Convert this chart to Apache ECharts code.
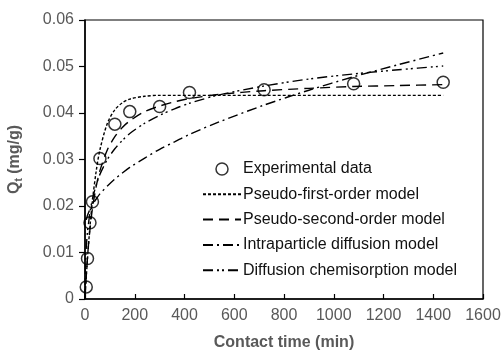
<!DOCTYPE html>
<html><head><meta charset="utf-8">
<script src="https://cdn.jsdelivr.net/npm/echarts@6/dist/echarts.min.js"></script>
<style>html,body{margin:0;padding:0;background:#fff}#c{width:502px;height:351px}</style>
</head><body><div id="c"></div>
<script>
// Experimental data
const expT = [5, 10, 20, 30, 60, 120, 180, 300, 420, 720, 1080, 1440];
const expQ = [0.0026, 0.0087, 0.0164, 0.0209, 0.0302, 0.0376, 0.0403, 0.0414, 0.0444, 0.0450, 0.0463, 0.0466];
// Model curves
const modelT = [0, 2, 5, 10, 15, 20, 30, 45, 60, 90, 120, 150, 180, 240, 300, 360, 420, 540, 720, 900, 1080, 1260, 1440];
const pfoQ = [0, 0.0019, 0.0046, 0.0087, 0.0123, 0.0156, 0.0212, 0.0275, 0.0321, 0.0378, 0.0407, 0.0422, 0.0430, 0.0436, 0.0438, 0.0438, 0.0438, 0.0438, 0.0438, 0.0438, 0.0438, 0.0438, 0.0438];
const psoQ = [0, 0.0021, 0.0049, 0.0089, 0.0123, 0.0150, 0.0195, 0.0242, 0.0276, 0.0321, 0.0349, 0.0369, 0.0383, 0.0403, 0.0415, 0.0424, 0.0431, 0.0440, 0.0448, 0.0453, 0.0457, 0.0459, 0.0461];
const ipdT = [5, 10, 20, 30, 45, 60, 90, 120, 150, 180, 240, 300, 360, 420, 540, 720, 900, 1080, 1260, 1440];
const ipdQ = [0.0170, 0.0180, 0.0193, 0.0203, 0.0215, 0.0226, 0.0243, 0.0258, 0.0271, 0.0283, 0.0303, 0.0322, 0.0338, 0.0354, 0.0381, 0.0417, 0.0449, 0.0478, 0.0504, 0.0529];
const dcQ = [0, 0.0074, 0.0110, 0.0145, 0.0166, 0.0187, 0.0215, 0.0245, 0.0268, 0.0300, 0.0323, 0.0341, 0.0356, 0.0378, 0.0395, 0.0409, 0.0421, 0.0439, 0.0458, 0.0473, 0.0484, 0.0493, 0.0501];
const names = ['Experimental data', 'Pseudo-first-order model', 'Pseudo-second-order model', 'Intraparticle diffusion model', 'Diffusion chemisorption model'];

const zip = (a, b) => a.map((v, i) => [v, b[i]]);
const chart = echarts.init(document.getElementById('c'), null, {renderer: 'canvas'});
const lineBase = (name, data, dash) => ({
  name, type: 'line', data, smooth: 0.3, showSymbol: false, symbol: 'none',
  lineStyle: {color: '#000', width: 1.4, type: dash},
  itemStyle: {color: '#000'}, z: 2
});
const FONT = 'Liberation Sans';
chart.setOption({
  animation: false,
  backgroundColor: '#fff',
  grid: {left: 85, top: 20, width: 398, height: 279, show: true, borderColor: '#000', borderWidth: 1.2,
         containLabel: false, outerBoundsMode: 'none'},
  xAxis: {
    type: 'value', min: 0, max: 1600, interval: 200,
    axisLine: {lineStyle: {color: '#000', width: 1.5}},
    axisTick: {inside: true, length: 5, lineStyle: {color: '#000', width: 1.2}},
    splitLine: {show: false},
    axisLabel: {color: '#595959', fontSize: 16, fontFamily: FONT, margin: 9, formatter: v => String(v)},
    name: 'Contact time (min)', nameLocation: 'middle', nameGap: 36,
    nameTextStyle: {color: '#595959', fontSize: 16, fontWeight: 'bold', fontFamily: FONT}
  },
  yAxis: {
    type: 'value', min: 0, max: 0.06, interval: 0.01,
    axisLine: {lineStyle: {color: '#000', width: 1.5}},
    axisTick: {inside: false, length: 6, lineStyle: {color: '#000', width: 1.2}},
    splitLine: {show: false},
    axisLabel: {color: '#595959', fontSize: 16, fontFamily: FONT, margin: 11,
      formatter: v => v === 0 ? '0' : v.toFixed(2)},
    name: 'Q{s|t} (mg/g)', nameLocation: 'middle', nameGap: 61, nameRotate: 90,
    nameTextStyle: {color: '#595959', fontSize: 16, fontWeight: 'bold', fontFamily: FONT,
      rich: {s: {fontSize: 10, fontWeight: 'bold', color: '#595959', fontFamily: FONT, verticalAlign: 'bottom', padding: [9, 0, 0, 0]}}}
  },
  legend: {
    orient: 'vertical', left: 202, top: 161, padding: 0, itemWidth: 38, itemHeight: 12, itemGap: 9.3,
    textStyle: {color: '#111', fontSize: 16, fontFamily: FONT, padding: [0, 0, 0, -3]},
    data: [
      {name: names[0], icon: 'circle', itemStyle: {color: 'rgba(255,255,255,0)', borderColor: '#000', borderWidth: 1.5}},
      {name: names[1], itemStyle: {opacity: 0}},
      {name: names[2], itemStyle: {opacity: 0}},
      {name: names[3], itemStyle: {opacity: 0}},
      {name: names[4], itemStyle: {opacity: 0}}
    ]
  },
  series: [
    {name: names[0], type: 'scatter', data: zip(expT, expQ), symbol: 'circle', symbolSize: 12,
     itemStyle: {color: 'rgba(255,255,255,0)', borderColor: '#000', borderWidth: 1.5}, z: 5},
    lineBase(names[1], zip(modelT, pfoQ), [3, 2]),
    lineBase(names[2], zip(modelT, psoQ), [10, 6]),
    lineBase(names[3], zip(ipdT, ipdQ), [10, 4, 2, 4]),
    lineBase(names[4], zip(modelT, dcQ), [10, 4, 2, 3, 2, 4])
  ]
});
</script></body></html>
